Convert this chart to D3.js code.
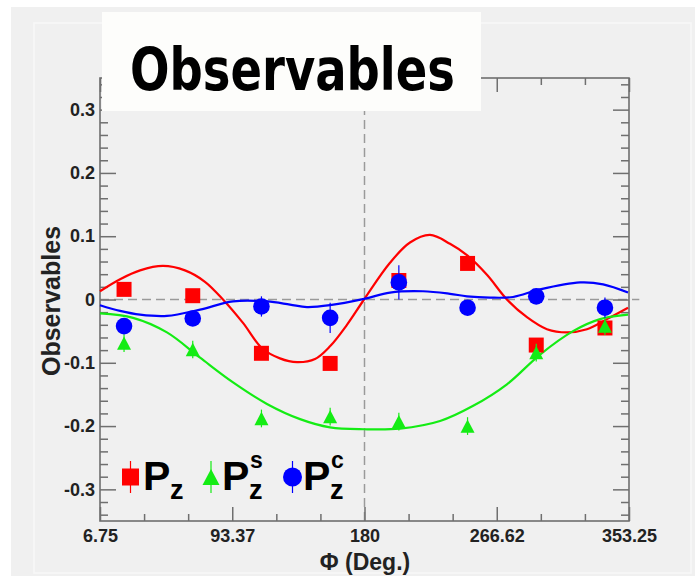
<!DOCTYPE html>
<html>
<head>
<meta charset="utf-8">
<script src="https://cdn.jsdelivr.net/npm/d3@7"></script>
<style>
  body { margin: 0; background: #ffffff; }
  svg { display: block; }
</style>
</head>
<body>
<svg id="chart" width="695" height="576"></svg>
<script>
// ---- data -------------------------------------------------------------
// azimuthal bin centres (degrees)
const phiBins = [22.5, 67.5, 112.5, 157.5, 202.5, 247.5, 292.5, 337.5];

// measured observables and their uncertainties
const pz      = [0.016, 0.006, -0.085, -0.101, 0.030, 0.057, -0.072, -0.045];
const pzErr   = [0.010, 0.010, 0.010, 0.010, 0.010, 0.010, 0.010, 0.010];
const pzs     = [-0.069, -0.079, -0.188, -0.185, -0.193, -0.200, -0.084, -0.042];
const pzsErr  = [0.014, 0.014, 0.014, 0.014, 0.014, 0.014, 0.014, 0.014];
const pzc     = [-0.042, -0.030, -0.011, -0.029, 0.027, -0.013, 0.005, -0.013];
const pzcErr  = [0.012, 0.012, 0.016, 0.024, 0.027, 0.012, 0.012, 0.016];

// fitted curves, sampled as [phi, value]
const pzFit = [
  [6.75, 0.013], [19.9, 0.032], [33.0, 0.046], [48.0, 0.053], [62.4, 0.046],
  [75.5, 0.028], [87.3, 0.000], [100.4, -0.037], [112.9, -0.077], [124.6, -0.093],
  [135.8, -0.099], [147.6, -0.094], [157.4, -0.074], [168.5, -0.040], [179.7, 0.000],
  [196.7, 0.058], [209.8, 0.090], [222.9, 0.102], [236.0, 0.088], [247.1, 0.070],
  [260.2, 0.039], [273.3, 0.000], [286.4, -0.028], [299.5, -0.047], [312.6, -0.052],
  [325.7, -0.047], [338.8, -0.031], [352.6, -0.013]
];
const pzsFit = [
  [6.75, -0.022], [28.4, -0.029], [50.6, -0.052], [72.3, -0.092], [93.9, -0.131],
  [116.1, -0.165], [137.8, -0.189], [157.4, -0.202], [179.7, -0.205], [203.3, -0.204],
  [229.5, -0.192], [251.2, -0.168], [273.3, -0.134], [295.0, -0.087], [316.6, -0.050],
  [334.3, -0.031], [352.6, -0.024]
];
const pzcFit = [
  [6.75, -0.009], [19.9, -0.018], [33.0, -0.024], [50.6, -0.026], [72.3, -0.016],
  [93.9, -0.003], [116.1, -0.003], [131.2, -0.008], [142.3, -0.012], [157.4, -0.009],
  [179.7, 0.001], [196.7, 0.011], [218.3, 0.013], [236.0, 0.009], [247.1, 0.005],
  [262.2, 0.003], [277.3, 0.004], [295.0, 0.016], [321.2, 0.027], [336.3, 0.024],
  [352.6, 0.011]
];

// axis ticks
const xTicks = [6.75, 93.37, 180, 266.62, 353.25];
const xTickLabels = ["6.75", "93.37", "180", "266.62", "353.25"];
const yTicks = [-0.3, -0.2, -0.1, 0, 0.1, 0.2, 0.3];
const yTickLabels = ["-0.3", "-0.2", "-0.1", "0", "0.1", "0.2", "0.3"];

// ---- setup ------------------------------------------------------------
const svg = d3.select("#chart");
const RED = "#ff0000", GREEN = "#14ec14", BLUE = "#0000ff";
const AXIS = "#6f6f6f";
const FONT = "'Liberation Sans', Arial, Helvetica, sans-serif";

const x = d3.scaleLinear().domain([6.75, 353.25]).range([100, 629]);
const y = d3.scaleLinear().domain([-0.35, 0.35]).range([521, 78]);
const [x0, x1] = x.range();
const [yB, yT] = y.range();

// canvas background
svg.append("rect").attr("x", 11).attr("y", 7).attr("width", 684).attr("height", 569)
  .attr("fill", "#f0f0f0");
svg.append("rect").attr("x", 34).attr("y", 23).attr("width", 657).attr("height", 550)
  .attr("fill", "none").attr("stroke", "#f8f8f8").attr("stroke-width", 1.5);

// reference lines
svg.append("line")
  .attr("x1", x(6.75)).attr("x2", x(360)).attr("y1", y(0)).attr("y2", y(0))
  .attr("stroke", "#9a9a9a").attr("stroke-width", 1.5).attr("stroke-dasharray", "9,5");
svg.append("line")
  .attr("x1", x(180)).attr("x2", x(180)).attr("y1", yT).attr("y2", yB)
  .attr("stroke", "#9a9a9a").attr("stroke-width", 1.5).attr("stroke-dasharray", "9,5");

// minor tick positions
const xMinor = [];
for (let i = 0; i < xTicks.length - 1; i++) {
  const step = (xTicks[i + 1] - xTicks[i]) / 3;
  xMinor.push(xTicks[i] + step, xTicks[i] + 2 * step);
}
const yMinor = d3.range(-17, 18).map(k => k * 0.02)
  .filter(v => Math.abs(Math.round(v * 10) - v * 10) > 1e-6);

function styleAxis(g) {
  g.select(".domain").remove();
  g.selectAll(".tick line").attr("stroke", AXIS).attr("stroke-width", 1.5);
  g.selectAll("text").attr("font-family", FONT).attr("font-weight", "bold")
    .attr("font-size", 18).attr("fill", "#222");
}

// bottom axis
svg.append("g").attr("transform", `translate(0,${yB})`)
  .call(d3.axisBottom(x).tickValues(xTicks).tickSize(-14).tickPadding(8)
    .tickFormat((d, i) => xTickLabels[i]))
  .call(styleAxis);
svg.append("g").attr("transform", `translate(0,${yB})`)
  .call(d3.axisBottom(x).tickValues(xMinor).tickSize(-7).tickFormat(""))
  .call(styleAxis);
// top axis
svg.append("g").attr("transform", `translate(0,${yT})`)
  .call(d3.axisTop(x).tickValues(xTicks).tickSize(-14).tickFormat(""))
  .call(styleAxis);
svg.append("g").attr("transform", `translate(0,${yT})`)
  .call(d3.axisTop(x).tickValues(xMinor).tickSize(-7).tickFormat(""))
  .call(styleAxis);
// left axis
svg.append("g").attr("transform", `translate(${x0},0)`)
  .call(d3.axisLeft(y).tickValues(yTicks).tickSize(-16).tickPadding(5)
    .tickFormat((d, i) => yTickLabels[i]))
  .call(styleAxis);
svg.append("g").attr("transform", `translate(${x0},0)`)
  .call(d3.axisLeft(y).tickValues(yMinor).tickSize(-8).tickFormat(""))
  .call(styleAxis);
// right axis
svg.append("g").attr("transform", `translate(${x1},0)`)
  .call(d3.axisRight(y).tickValues(yTicks).tickSize(-16).tickFormat(""))
  .call(styleAxis);
svg.append("g").attr("transform", `translate(${x1},0)`)
  .call(d3.axisRight(y).tickValues(yMinor).tickSize(-8).tickFormat(""))
  .call(styleAxis);

// frame
svg.append("rect").attr("x", x0).attr("y", yT).attr("width", x1 - x0).attr("height", yB - yT)
  .attr("fill", "none").attr("stroke", AXIS).attr("stroke-width", 1.6);

// axis titles
svg.append("text").attr("transform", `translate(60,301) rotate(-90)`)
  .attr("text-anchor", "middle").attr("font-family", FONT).attr("font-weight", "bold")
  .attr("font-size", 25).attr("fill", "#222").text("Observables");
svg.append("text").attr("x", 365).attr("y", 570)
  .attr("text-anchor", "middle").attr("font-family", FONT).attr("font-weight", "bold")
  .attr("font-size", 23).attr("fill", "#222").text("Φ (Deg.)");

// ---- fitted curves ------------------------------------------------------
const line = d3.line().x(d => x(d[0])).y(d => y(d[1])).curve(d3.curveCatmullRom.alpha(0.5));
[[pzFit, RED], [pzsFit, GREEN], [pzcFit, BLUE]].forEach(([pts, col]) => {
  svg.append("path").datum(pts).attr("d", line)
    .attr("fill", "none").attr("stroke", col).attr("stroke-width", 2.2);
});

// ---- markers ------------------------------------------------------------
// upward triangle centred on its bounding box
const triangleUp = {
  draw(ctx, size) {
    const r = Math.sqrt(size) / 2;
    ctx.moveTo(-r, r * 0.95);
    ctx.lineTo(r, r * 0.95);
    ctx.lineTo(0, -r * 0.95);
    ctx.closePath();
  }
};
const series = [
  { vals: pz,  errs: pzErr,  color: RED,   type: d3.symbolSquare, size: 15 * 15 },
  { vals: pzs, errs: pzsErr, color: GREEN, type: triangleUp,      size: 14 * 14 },
  { vals: pzc, errs: pzcErr, color: BLUE,  type: d3.symbolCircle, size: Math.PI * 8.3 * 8.3 }
];
series.forEach(s => {
  const g = svg.append("g");
  g.selectAll("line").data(s.vals).join("line")
    .attr("x1", (d, i) => x(phiBins[i])).attr("x2", (d, i) => x(phiBins[i]))
    .attr("y1", (d, i) => y(d - s.errs[i])).attr("y2", (d, i) => y(d + s.errs[i]))
    .attr("stroke", s.color).attr("stroke-width", 1.2);
  g.selectAll("path").data(s.vals).join("path")
    .attr("transform", (d, i) => `translate(${x(phiBins[i])},${y(d)})`)
    .attr("d", d3.symbol().type(s.type).size(s.size))
    .attr("fill", s.color);
});

// ---- legend -------------------------------------------------------------
const legend = [
  { color: RED,   type: d3.symbolSquare, size: 17 * 17,             mx: 130.5, tx: 143, sup: "" },
  { color: GREEN, type: triangleUp,      size: 17 * 17,             mx: 211,   tx: 222, sup: "s" },
  { color: BLUE,  type: d3.symbolCircle, size: Math.PI * 9.5 * 9.5, mx: 292.5, tx: 303, sup: "c" }
];
const ly = 477;
legend.forEach(e => {
  const g = svg.append("g");
  g.append("line").attr("x1", e.mx).attr("x2", e.mx).attr("y1", ly - 16).attr("y2", ly + 16)
    .attr("stroke", e.color).attr("stroke-width", 1.2);
  g.append("path").attr("transform", `translate(${e.mx},${ly})`)
    .attr("d", d3.symbol().type(e.type).size(e.size)).attr("fill", e.color);
  // P with subscript z and optional superscript, set as one text element
  const t = g.append("text").attr("x", e.tx).attr("y", 490).attr("font-family", FONT)
    .attr("font-weight", "bold").attr("fill", "#000");
  t.append("tspan").attr("font-size", 41).text("P");
  if (e.sup) {
    t.append("tspan").attr("x", e.tx + 28).attr("y", 468).attr("font-size", 23).text(e.sup);
  }
  t.append("tspan").attr("x", e.tx + 27).attr("y", 499).attr("font-size", 27).text("z");
});

// ---- title box ----------------------------------------------------------
svg.append("rect").attr("x", 102).attr("y", 12).attr("width", 379).attr("height", 99)
  .attr("fill", "#fdfdfb");
svg.append("text").attr("x", 130).attr("y", 90)
  .attr("font-family", "'Comic Sans MS', 'DejaVu Sans', sans-serif").attr("font-weight", "bold")
  .attr("font-size", 59).attr("textLength", 325).attr("lengthAdjust", "spacingAndGlyphs")
  .attr("fill", "#000").text("Observables");
</script>
</body>
</html>
